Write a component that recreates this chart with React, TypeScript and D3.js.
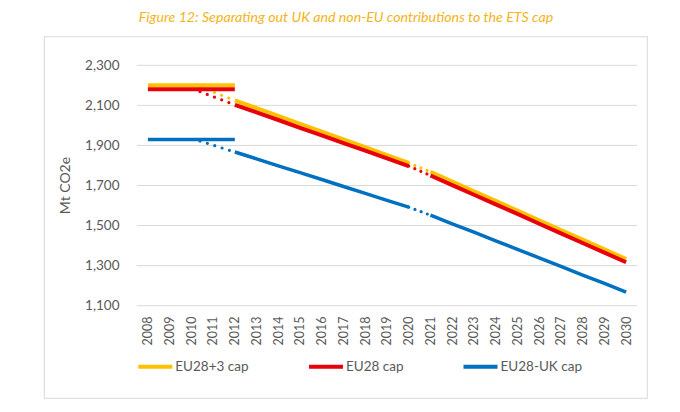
import React from "react";
import * as d3 from "d3";

const years = [2008, 2009, 2010, 2011, 2012, 2013, 2014, 2015, 2016, 2017, 2018, 2019, 2020, 2021, 2022, 2023, 2024, 2025, 2026, 2027, 2028, 2029, 2030];
const yTicks = [1100, 1300, 1500, 1700, 1900, 2100, 2300];

const phase2Years = [2008, 2009, 2010, 2011, 2012];
const phase3Years = [2012, 2013, 2014, 2015, 2016, 2017, 2018, 2019, 2020];
const phase4Years = [2021, 2022, 2023, 2024, 2025, 2026, 2027, 2028, 2029, 2030];
const linkStartYear = 2010.4;

const seriesNames = ["EU28+3 cap", "EU28 cap", "EU28-UK cap"];
const seriesColors = ["#FFC000", "#E8000B", "#0070C0"];

const eu28p3Phase2 = [2200, 2200, 2200, 2200, 2200];
const eu28Phase2 = [2180, 2180, 2180, 2180, 2180];
const ukPhase2 = [1930, 1930, 1930, 1930, 1930];

const linkStartValues = [2192, 2168, 1922];

const eu28p3Phase3 = [2125, 2086, 2047, 2008, 1969, 1930, 1891, 1852, 1813];
const eu28Phase3 = [2103, 2065, 2027, 1988, 1950, 1912, 1874, 1835, 1797];
const ukPhase3 = [1867, 1833, 1798, 1764, 1730, 1695, 1661, 1626, 1592];

const eu28p3Phase4 = [1768, 1720, 1671, 1623, 1575, 1526, 1478, 1430, 1381, 1333];
const eu28Phase4 = [1750, 1702, 1654, 1606, 1558, 1509, 1461, 1413, 1365, 1317];
const ukPhase4 = [1552, 1509, 1467, 1424, 1381, 1339, 1296, 1253, 1211, 1168];

const phase2 = [eu28p3Phase2, eu28Phase2, ukPhase2];
const phase3 = [eu28p3Phase3, eu28Phase3, ukPhase3];
const phase4 = [eu28p3Phase4, eu28Phase4, ukPhase4];

const W = 680;
const H = 412;
const plotL = 137;
const plotR = 637;
const plotT = 65.3;
const plotB = 305.7;
const font = "Lato, 'Open Sans', sans-serif";
const textColor = "#595959";

export default function App() {
  const x = d3.scaleLinear().domain([years[0] - 0.5, years[years.length - 1] + 0.5]).range([plotL, plotR]);
  const y = d3.scaleLinear().domain([1100, 2300]).range([plotB, plotT]);
  const line = d3
    .line<[number, number]>()
    .x((d) => x(d[0]))
    .y((d) => y(d[1]));

  const widths = [4, 4, 3.5];
  const zip = (ys: number[], vs: number[]) => ys.map((yr, i) => [yr, vs[i]] as [number, number]);

  return (
    <svg width={W} height={H} style={{ position: "absolute", left: 0, top: 0, display: "block" }}>
      <rect x={0} y={0} width={W} height={H} fill="#ffffff" />
      <text x={346} y={22} textAnchor="middle" fontFamily={font} fontStyle="italic" fontSize={14.2} fill="#F2B418">
        Figure 12: Separating out UK and non-EU contributions to the ETS cap
      </text>
      <rect x={44.3} y={36.7} width={603} height={361.6} fill="none" stroke="#d9d9d9" strokeWidth={1} />

      {yTicks.map((t) => (
        <g key={t}>
          <line x1={plotL} x2={plotR} y1={y(t)} y2={y(t)} stroke="#d9d9d9" strokeWidth={1} />
          <text x={119.5} y={y(t)} dy="0.35em" textAnchor="end" fontFamily={font} fontSize={13.5} fill={textColor}>
            {d3.format(",")(t)}
          </text>
        </g>
      ))}

      {years.map((yr) => (
        <text
          key={yr}
          transform={`translate(${x(yr)},316.5) rotate(-90)`}
          dy="0.35em"
          textAnchor="end"
          fontFamily={font}
          fontSize={12.5}
          fill={textColor}
        >
          {yr}
        </text>
      ))}

      <text
        transform={`translate(65,${(plotT + plotB) / 2}) rotate(-90)`}
        dy="0.35em"
        textAnchor="middle"
        fontFamily={font}
        fontSize={14}
        fill={textColor}
      >
        Mt CO2e
      </text>

      {seriesNames.map((name, i) => (
        <g key={name}>
          <path d={line(zip(phase2Years, phase2[i])) || ""} fill="none" stroke={seriesColors[i]} strokeWidth={widths[i]} />
          <path
            d={line([[linkStartYear, linkStartValues[i]], [phase3Years[0], phase3[i][0]]]) || ""}
            fill="none"
            stroke={seriesColors[i]}
            strokeWidth={3.2}
            strokeLinecap="round"
            strokeDasharray="0 7.7"
          />
          <path d={line(zip(phase3Years, phase3[i])) || ""} fill="none" stroke={seriesColors[i]} strokeWidth={widths[i]} />
          <path
            d={line([[phase3Years[phase3Years.length - 1], phase3[i][phase3[i].length - 1]], [phase4Years[0], phase4[i][0]]]) || ""}
            fill="none"
            stroke={seriesColors[i]}
            strokeWidth={3.2}
            strokeLinecap="round"
            strokeDasharray="0 6.6"
          />
          <path d={line(zip(phase4Years, phase4[i])) || ""} fill="none" stroke={seriesColors[i]} strokeWidth={widths[i]} />
        </g>
      ))}

      {seriesNames.map((name, i) => {
        const lx = [138.3, 309, 463.5][i];
        return (
          <g key={"leg" + name}>
            <line x1={lx} x2={lx + 34} y1={366.7} y2={366.7} stroke={seriesColors[i]} strokeWidth={4} />
            <text x={lx + 37} y={366.7} dy="0.35em" fontFamily={font} fontSize={13.5} fill={textColor}>
              {name}
            </text>
          </g>
        );
      })}
    </svg>
  );
}
